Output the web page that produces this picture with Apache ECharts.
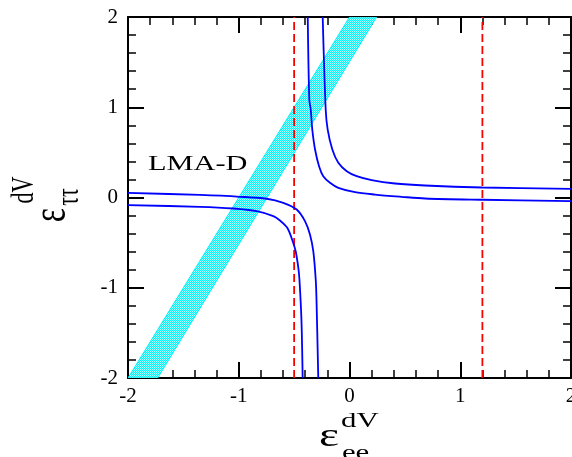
<!DOCTYPE html>
<html>
<head>
<meta charset="utf-8"/>
<title>LMA-D</title>
<script src="https://cdn.jsdelivr.net/npm/echarts@6/dist/echarts.min.js"></script>
<style>
  html, body { margin: 0; padding: 0; background: #fff; }
  #main { width: 572px; height: 457px; }
</style>
</head>
<body>
<div id="main"></div>
<script type="text/javascript">
// band (cyan allowed region), corners
var bandX = [-2, 0.0, 0.245, -1.732];
var bandY = [-2, 2, 2, -2];

// red dashed verticals
var redX = [-0.5, 1.2];

// blue curves, read point by point
var curveA1 = [[-0.242, 2.0], [-0.215, 0.975], [-0.197, 0.753], [-0.155, 0.532],
  [-0.101, 0.384], [-0.025, 0.291], [0.065, 0.236], [0.200, 0.192], [0.411, 0.155],
  [0.682, 0.133], [1.197, 0.111], [2.0, 0.096]];
var curveB1 = [[-0.377, 2.0], [-0.363, 1.085], [-0.350, 0.975], [-0.336, 0.753], [-0.311, 0.532],
  [-0.275, 0.347], [-0.237, 0.236], [-0.176, 0.163], [-0.101, 0.107], [0.050, 0.059],
  [0.230, 0.033], [0.471, 0.008], [0.682, -0.011], [1.197, -0.025], [2.0, -0.041]];
var curveA2 = [[-2.0, 0.052], [-1.350, 0.028], [-0.989, 0.008], [-0.748, -0.014], [-0.598, -0.059],
  [-0.477, -0.133], [-0.402, -0.262], [-0.357, -0.410], [-0.327, -0.595], [-0.305, -0.908],
  [-0.298, -1.130], [-0.282, -2.0]];
var curveB2 = [[-2.0, -0.085], [-1.350, -0.103], [-1.049, -0.122], [-0.838, -0.152], [-0.688, -0.207],
  [-0.628, -0.255], [-0.562, -0.336], [-0.513, -0.484], [-0.486, -0.595], [-0.462, -0.779],
  [-0.452, -0.908], [-0.434, -1.351], [-0.423, -2.0]];

// dotted cyan fill
var pat = document.createElement('canvas');
pat.width = 2; pat.height = 2;
var pc = pat.getContext('2d');
pc.fillStyle = '#aaffff'; pc.fillRect(0, 0, 2, 2);
pc.fillStyle = '#00f4fa'; pc.fillRect(0, 0, 1, 1); pc.fillRect(1, 1, 1, 1);

var serif = '"Liberation Serif", "DejaVu Serif", serif';

var myChart = echarts.init(document.getElementById('main'));

var axisCommon = {
  type: 'value', min: -2, max: 2, interval: 1,
  axisLine: { onZero: false, lineStyle: { color: '#000', width: 2 } },
  axisTick: { inside: true, length: 16, lineStyle: { color: '#000', width: 2 } },
  minorTick: { show: true, splitNumber: 5, length: 8, lineStyle: { color: '#000', width: 1.5 } },
  splitLine: { show: false },
  axisLabel: { color: '#000', fontFamily: serif, fontSize: 21 }
};

function mkLine(d) {
  return {
    type: 'line', data: d, smooth: 0.3, showSymbol: false, symbol: 'none',
    lineStyle: { color: '#0000ff', width: 1.8 }, z: 4, animation: false
  };
}

var series = [{
  type: 'custom',
  clip: true,
  data: bandX.map(function (x, i) { return [x, bandY[i]]; }),
  renderItem: function (params, api) {
    if (params.dataIndex > 0) return null;
    var pts = bandX.map(function (x, i) { return api.coord([x, bandY[i]]); });
    return {
      type: 'polygon',
      shape: { points: pts },
      style: { fill: { image: pat, repeat: 'repeat' }, stroke: '#00f4fa', lineWidth: 1 }
    };
  },
  z: 2, animation: false
}];
redX.forEach(function (x) {
  series.push({
    type: 'line', data: [[x, -2], [x, 2]], showSymbol: false, symbol: 'none',
    lineStyle: { color: '#ff0000', width: 1.8, type: [8, 4] }, z: 3, animation: false
  });
});
[curveA1, curveB1, curveA2, curveB2].forEach(function (c) { series.push(mkLine(c)); });

var option = {
  animation: false,
  grid: { left: 128, right: 1, top: 17, bottom: 79, containLabel: false, outerBoundsMode: 'none' },
  xAxis: [
    echarts.util.merge({ position: 'bottom', axisLabel: { margin: 8 } }, axisCommon, true),
    echarts.util.merge({ position: 'top', axisLabel: { show: false } }, axisCommon, true)
  ],
  yAxis: [
    echarts.util.merge({ position: 'left', axisLabel: { margin: 10 } }, axisCommon, true),
    echarts.util.merge({ position: 'right', axisLabel: { show: false } }, axisCommon, true)
  ],
  graphic: [
    { type: 'text', x: 148, y: 153, scaleX: 1.38,
      style: { text: 'LMA-D', font: '22px ' + serif, fill: '#000' } },
    // x axis title
    { type: 'group', x: 329, y: 437, scaleX: 1.4, children: [
      { type: 'text', x: 0, y: 0, style: { text: 'ε', font: '34px ' + serif, fill: '#000', align: 'center', verticalAlign: 'middle' } },
      { type: 'text', x: 22, y: -16, style: { text: 'dV', font: '22px ' + serif, fill: '#000', align: 'center', verticalAlign: 'middle' } },
      { type: 'text', x: 19, y: 16, style: { text: 'ee', font: '22px ' + serif, fill: '#000', align: 'center', verticalAlign: 'middle' } }
    ] },
    // y axis title
    { type: 'group', x: 50, y: 215, rotation: Math.PI / 2, scaleY: 1.4, children: [
      { type: 'text', x: 0, y: 2, style: { text: 'ε', font: '34px ' + serif, fill: '#000', align: 'center', verticalAlign: 'middle' } },
      { type: 'text', x: 25, y: -18, style: { text: 'dV', font: '22px ' + serif, fill: '#000', align: 'center', verticalAlign: 'middle' } },
      { type: 'text', x: 18, y: 14, style: { text: 'ττ', font: '22px ' + serif, fill: '#000', align: 'center', verticalAlign: 'middle' } }
    ] }
  ],
  series: series
};
myChart.setOption(option);
</script>
</body>
</html>
